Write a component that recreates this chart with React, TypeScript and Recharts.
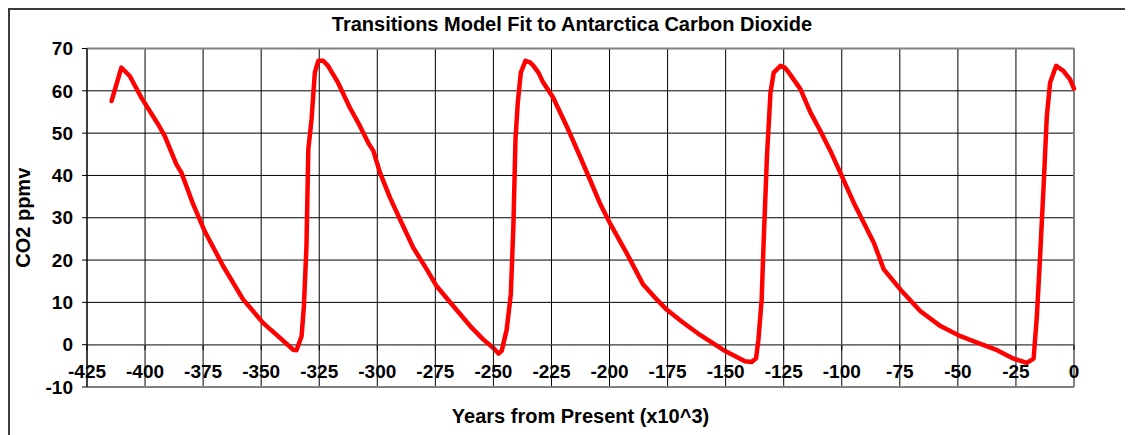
import React from "react";
import {
  LineChart,
  Line,
  XAxis,
  YAxis,
  CartesianGrid,
  ReferenceLine,
} from "recharts";

// years before present (x10^3) and fitted CO2 anomaly (ppmv)
const years = [
  -414.4, -410.2, -406.6, -401.6, -394.4, -391.5, -386.5, -384.3, -379.3, -374.3,
  -366.4, -357.8, -349.1, -341.9, -336.2, -334.8, -332.6, -331.6, -330.5, -329.7,
  -328.3, -326.9, -325.4, -323.3, -321.2, -316.8, -311.8, -307.5, -303.9, -301.7,
  -298.8, -294.5, -290.2, -284.5, -278.7, -274.4, -267.2, -260, -254.3, -250,
  -247.8, -246.4, -244.3, -242.5, -241.4, -240.5, -239.5, -238.2, -236.2, -234.2,
  -232.9, -230.6, -228.6, -224.3, -218.5, -212.8, -208.5, -204.2, -199.9, -192.7,
  -185.5, -179.7, -175.4, -168.5, -161, -151, -141.7, -138.8, -136.9, -135.9,
  -134.5, -133.6, -132.2, -130.7, -129.3, -126.4, -124.5, -122.8, -117.8, -113.5,
  -109.2, -104.9, -100.6, -94.8, -86.2, -81.9, -74.7, -66.1, -57.5, -48.9,
  -43.1, -33.1, -26, -20.3, -17.4, -16, -14.6, -13.1, -11.7, -10.3,
  -7.7, -4.6, -1.7, 0,
];

const co2 = [
  57.6, 65.5, 63.5, 58.4, 52.1, 49.3, 42.6, 40.6, 33.2, 26.8,
  18.6, 10.7, 5.1, 1.6, -1.2, -1.3, 2.0, 9.1, 23.3, 46.2,
  53.3, 64.3, 67.1, 67.1, 65.9, 61.8, 56, 51.7, 47.7, 45.8,
  40.6, 34.7, 29.6, 22.9, 17.8, 13.8, 9.1, 4.4, 1.2, -0.8,
  -2.1, -1.4, 3.5, 12, 28, 48.5, 57.2, 64.3, 67.1, 66.7,
  66.0, 64.3, 62.0, 58.4, 51.7, 44.6, 39.1, 33.5, 28.8, 21.7,
  14.2, 10.7, 8.3, 5.3, 2.3, -1.25, -3.9, -4.1, -3.2, 1.1,
  10.6, 24.9, 44.6, 59.6, 64.3, 65.9, 65.5, 64.3, 60.4, 54.9,
  50.5, 45.8, 40.6, 33.5, 24.1, 17.8, 13.0, 7.9, 4.4, 2.0,
  0.8, -1.3, -3.3, -4.3, -3.3, 6.6, 20.8, 37.4, 54.0, 61.9,
  65.9, 64.7, 62.7, 60.5,
];

const xTicks = [
  -425, -400, -375, -350, -325, -300, -275, -250, -225, -200, -175, -150, -125,
  -100, -75, -50, -25, 0,
];
const yTicks = [-10, 0, 10, 20, 30, 40, 50, 60, 70];

const data = years.map((y, i) => ({ year: y, co2: co2[i] }));

const W = 1123;
const H = 425;
const M = { top: 38.5, right: 59, bottom: 8, left: 0 };
const X_AXIS_H = 40;
const PLOT_H = H - M.top - M.bottom - X_AXIS_H;
// distance from bottom of plot (-10) up to the zero line
const ZERO_UP = (PLOT_H * 10) / 80;

const FONT = "'Liberation Sans', Arial, sans-serif";

const XTick = (props: any) => {
  const { x, y, payload } = props;
  return (
    <g>
      <line x1={x} x2={x} y1={y - ZERO_UP} y2={y - ZERO_UP + 5.5} stroke="#000" />
      <text
        x={x}
        y={y - 9}
        textAnchor="middle"
        fontSize={19}
        fontWeight="bold"
        fontFamily={FONT}
        fill="#000"
      >
        {payload.value}
      </text>
    </g>
  );
};

const App: React.FC = () => (
  <div
    style={{
      position: "relative",
      width: 1125,
      height: 427,
      boxSizing: "border-box",
      borderTop: "2px solid #3c3c3c",
      borderLeft: "2px solid #3c3c3c",
      overflow: "hidden",
      fontFamily: FONT,
      background: "#fff",
    }}
  >
    <div
      style={{
        position: "absolute",
        left: 0,
        top: 3,
        width: 1124,
        textAlign: "center",
        fontSize: 20,
        fontWeight: "bold",
        color: "#000",
      }}
    >
      Transitions Model Fit to Antarctica Carbon Dioxide
    </div>
    <LineChart width={W} height={H} data={data} margin={M}>
      <CartesianGrid stroke="#000" strokeWidth={1} />
      <XAxis
        dataKey="year"
        type="number"
        domain={[-425, 0]}
        ticks={xTicks}
        interval={0}
        height={X_AXIS_H}
        tickSize={0}
        tickMargin={0}
        tickLine={false}
        axisLine={{ stroke: "#808080", strokeWidth: 2 }}
        tick={<XTick />}
        label={{
          value: "Years from Present (x10^3)",
          position: "insideBottom",
          offset: 4,
          fontSize: 20,
          fontWeight: "bold",
          fill: "#000",
        }}
      />
      <YAxis
        type="number"
        domain={[-10, 70]}
        ticks={yTicks}
        interval={0}
        width={77}
        tickSize={5}
        tickMargin={9}
        axisLine={{ stroke: "#000", strokeWidth: 1 }}
        tickLine={{ stroke: "#000" }}
        tick={{ fontSize: 19, fontWeight: "bold", fill: "#000", fontFamily: FONT }}
        label={{
          value: "CO2 ppmv",
          angle: -90,
          position: "insideLeft",
          offset: 13,
          fontSize: 20,
          fontWeight: "bold",
          fill: "#000",
          style: { textAnchor: "middle" },
        }}
      />
      <ReferenceLine y={70} stroke="#808080" strokeWidth={2} />
      <ReferenceLine x={0} stroke="#808080" strokeWidth={2} />
      <ReferenceLine y={0} stroke="#6a6a6a" strokeWidth={1.5} />
      <Line
        type="linear"
        dataKey="co2"
        stroke="#ff0000"
        strokeWidth={4.5}
        strokeLinejoin="round"
        strokeLinecap="round"
        dot={false}
        isAnimationActive={false}
      />
    </LineChart>
  </div>
);

export default App;
